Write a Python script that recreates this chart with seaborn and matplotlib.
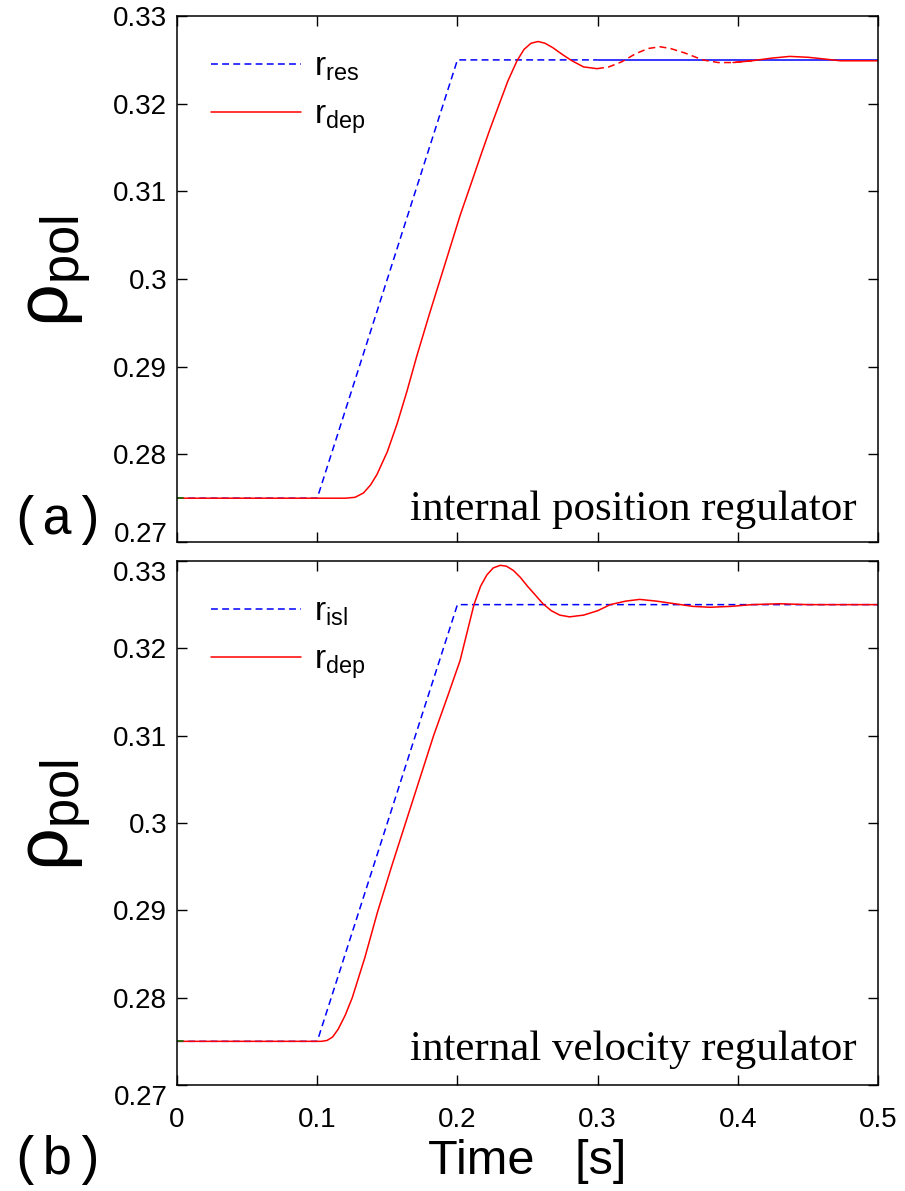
import numpy as np
import pandas as pd
import matplotlib
matplotlib.use("Agg")
import matplotlib.pyplot as plt
from matplotlib.ticker import FixedLocator
import seaborn as sns

# reference set-points (ramp from 0.1 s to 0.2 s)
ref_t = [0.0, 0.1, 0.2, 0.3, 0.5]
ref_v = [0.275, 0.275, 0.325, 0.325, 0.325]

# (a) internal position regulator, r_dep
a_t = [0.0, 0.120, 0.127, 0.133, 0.138, 0.1426, 0.150, 0.157, 0.164, 0.171,
       0.180, 0.1876, 0.195, 0.202, 0.210, 0.2175, 0.223, 0.229, 0.236, 0.2425,
       0.2475, 0.2525, 0.2575, 0.2625, 0.268, 0.275, 0.2817, 0.290, 0.2996, 0.308,
       0.3174, 0.327, 0.336, 0.3445, 0.352, 0.362, 0.375, 0.386, 0.3966, 0.410,
       0.424, 0.437, 0.450, 0.462, 0.473, 0.487, 0.500]
a_v = [0.275, 0.275, 0.2751, 0.2756, 0.2765, 0.2777, 0.2803, 0.2835, 0.2872, 0.2912,
       0.2960, 0.2999, 0.3037, 0.3073, 0.3110, 0.3145, 0.3170, 0.3196, 0.3226, 0.3249,
       0.3262, 0.3269, 0.3271, 0.3269, 0.3264, 0.3256, 0.3249, 0.3242, 0.3240, 0.3242,
       0.3248, 0.3257, 0.3263, 0.3265, 0.3263, 0.3258, 0.3250, 0.3247, 0.3247, 0.3249,
       0.3252, 0.3254, 0.3253, 0.3251, 0.3249, 0.3249, 0.3249]

# (b) internal velocity regulator, r_dep
b_t = [0.0, 0.103, 0.107, 0.111, 0.115, 0.120, 0.125, 0.134, 0.143, 0.153,
       0.163, 0.173, 0.183, 0.193, 0.2019, 0.2118, 0.2165, 0.221, 0.2255, 0.2305,
       0.235, 0.240, 0.245, 0.250, 0.255, 0.261, 0.267, 0.273, 0.280, 0.290,
       0.300, 0.309, 0.320, 0.330, 0.342, 0.355, 0.368, 0.380, 0.395, 0.410,
       0.430, 0.450, 0.500]
b_v = [0.275, 0.275, 0.2751, 0.2755, 0.2764, 0.2780, 0.2800, 0.2846, 0.2898, 0.2950,
       0.3000, 0.3050, 0.3100, 0.3145, 0.3186, 0.3250, 0.3271, 0.3284, 0.3292, 0.3295,
       0.3294, 0.3289, 0.3281, 0.3271, 0.3262, 0.3251, 0.3243, 0.3238, 0.3236, 0.3238,
       0.3243, 0.3250, 0.3254, 0.3256, 0.3254, 0.3251, 0.3248, 0.3247, 0.3248, 0.3250,
       0.3251, 0.3250, 0.3250]

yticks = [0.27, 0.28, 0.29, 0.30, 0.31, 0.32, 0.33]
ytick_labels = ['0.27', '0.28', '0.29', '0.3', '0.31', '0.32', '0.33']
xticks = [0.0, 0.1, 0.2, 0.3, 0.4, 0.5]
xtick_labels = ['0', '0.1', '0.2', '0.3', '0.4', '0.5']

sns.set_theme(style="ticks")
plt.rcParams['font.family'] = ['Liberation Sans', 'DejaVu Sans']
plt.rcParams['mathtext.fontset'] = 'custom'
plt.rcParams['mathtext.rm'] = 'Liberation Sans'
plt.rcParams['mathtext.it'] = 'Liberation Sans:italic'
plt.rcParams['axes.linewidth'] = 1.1
plt.rcParams['axes.edgecolor'] = 'black'
plt.rcParams['text.color'] = 'black'
plt.rcParams['axes.labelcolor'] = 'black'

ref = pd.DataFrame({'t': ref_t, 'v': ref_v})
da = pd.DataFrame({'t': a_t, 'v': a_v})
db = pd.DataFrame({'t': b_t, 'v': b_v})

dash = (0, (4.5, 2.8))
lw = 1.1

fig = plt.figure(figsize=(9.05, 11.91), dpi=100)
ax1 = fig.add_axes([0.1956, 0.5449, 0.7746, 0.4416])
ax2 = fig.add_axes([0.1956, 0.0890, 0.7746, 0.4400])

# --- panel (a)
sns.lineplot(data=ref[ref.t <= 0.3], x='t', y='v', ax=ax1, color='blue',
             linestyle=dash, lw=lw, label=r'r$_{\mathrm{res}}$')
sns.lineplot(data=ref[ref.t >= 0.3], x='t', y='v', ax=ax1, color='blue', lw=lw)
sns.lineplot(data=da[da.t <= 0.3], x='t', y='v', ax=ax1, color='red', lw=lw,
             label=r'r$_{\mathrm{dep}}$')
sns.lineplot(data=da[(da.t >= 0.2996) & (da.t <= 0.41)], x='t', y='v', ax=ax1,
             color='red', linestyle=dash, lw=lw)
sns.lineplot(data=da[da.t >= 0.3966], x='t', y='v', ax=ax1, color='red', lw=lw)
ax1.plot([0, 0.004], [0.275, 0.275], color='green', lw=lw)

# --- panel (b)
sns.lineplot(data=ref, x='t', y='v', ax=ax2, color='blue', linestyle=dash, lw=lw,
             label=r'r$_{\mathrm{isl}}$')
sns.lineplot(data=db, x='t', y='v', ax=ax2, color='red', lw=lw,
             label=r'r$_{\mathrm{dep}}$')
ax2.plot([0, 0.004], [0.275, 0.275], color='green', lw=lw)

for ax in (ax1, ax2):
    ax.set_xlim(0, 0.5)
    ax.set_ylim(0.27, 0.33)
    ax.xaxis.set_major_locator(FixedLocator(xticks))
    ax.yaxis.set_major_locator(FixedLocator(yticks))
    ax.set_yticklabels(ytick_labels)
    ax.tick_params(direction='in', length=7, width=1.0, top=True, right=True,
                   labelsize=20, colors='black')
    ax.tick_params(axis='y', pad=7)
    ax.tick_params(axis='x', pad=16)
    for s in ax.spines.values():
        s.set_visible(True)
        s.set_color('black')
    ax.set_ylabel(r'$\mathrm{\rho}_{\mathrm{pol}}$', fontsize=54, color='black')
    ax.yaxis.set_label_coords(-0.118, 0.515)
    leg = ax.legend(loc='upper left', bbox_to_anchor=(0.03, 0.958), frameon=False,
                    fontsize=24, handlelength=2.7, handletextpad=0.38,
                    labelspacing=0.5, borderaxespad=0)
    for txt in leg.get_texts():
        txt.set_color('black')

ax1.set_xticklabels([])
ax1.set_xlabel('')
ax2.set_xticklabels(xtick_labels)
ax2.set_xlabel('Time   [s]', fontsize=35, labelpad=4, color='black')

# end labels nudged like the original
ax1.yaxis.get_major_ticks()[0].label1.set_va('baseline')
ax2.yaxis.get_major_ticks()[-1].label1.set_va('top')
ax2.yaxis.get_major_ticks()[0].label1.set_va('top')

ax1.text(0.970, 0.042, 'internal position regulator', transform=ax1.transAxes,
         ha='right', va='baseline', fontsize=31, family='Liberation Serif',
         color='black')
ax2.text(0.970, 0.048, 'internal velocity regulator', transform=ax2.transAxes,
         ha='right', va='baseline', fontsize=31, family='Liberation Serif',
         color='black')

fig.text(0.011, 0.5634, '(a)', ha='left', va='center', fontsize=38,
         family='Liberation Mono', color='black')
fig.text(0.011, 0.026, '(b)', ha='left', va='center', fontsize=38,
         family='Liberation Mono', color='black')

fig.savefig('out.png', dpi=100, facecolor='white')
